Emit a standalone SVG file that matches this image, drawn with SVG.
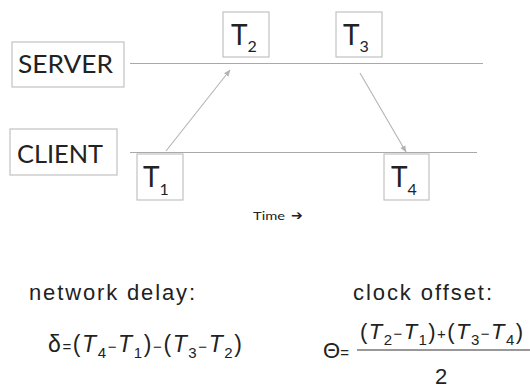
<svg xmlns="http://www.w3.org/2000/svg" width="530" height="389" viewBox="0 0 530 389">
<defs>
<style>
.box{fill:none;stroke:#c2c2c2;stroke-width:1.2}
.lbl{font-family:Lato,"Liberation Sans",sans-serif;fill:#222}
.tl{font-family:Lato,"Liberation Sans",sans-serif;font-size:28px;fill:#222}
.ts{font-size:16px}
.axis{stroke:#a9a9a9;stroke-width:1.2}
.msg{stroke:#b3b3b3;stroke-width:1.1;fill:none}
.m{font-family:"Liberation Sans",Arial,sans-serif;fill:#222}
.it{font-style:italic}
.sub{font-size:15px}
.op{font-size:15px}
</style>
<marker id="ah" viewBox="0 0 10 10" refX="9" refY="5" markerWidth="7" markerHeight="7" orient="auto" markerUnits="userSpaceOnUse">
<path d="M0,1 L10,5 L0,9 Z" fill="#b3b3b3"/>
</marker>
</defs>
<rect width="530" height="389" fill="#ffffff"/>

<g id="server">
<rect class="box" x="12" y="42" width="112" height="45"/>
<text class="lbl" x="18" y="73" font-size="25" textLength="95" lengthAdjust="spacingAndGlyphs">SERVER</text>
</g>
<g id="client">
<rect class="box" x="10" y="129" width="107" height="46"/>
<text class="lbl" x="17" y="163" font-size="25" textLength="86" lengthAdjust="spacingAndGlyphs">CLIENT</text>
</g>

<g id="connectors">
<line class="axis" x1="130" y1="63.5" x2="483" y2="63.5"/>
<line class="axis" x1="130" y1="152.5" x2="477" y2="152.5"/>
<line class="msg" x1="166" y1="151" x2="230" y2="70" marker-end="url(#ah)"/>
<line class="msg" x1="360" y1="73" x2="406" y2="152" marker-end="url(#ah)"/>
</g>

<g id="t1">
<rect class="box" x="137" y="154" width="46" height="46"/>
<text class="tl" x="143" y="187">T<tspan class="ts" dy="8">1</tspan></text>
</g>
<g id="t2">
<rect class="box" x="223" y="12" width="46" height="45"/>
<text class="tl" x="231" y="45">T<tspan class="ts" dy="7">2</tspan></text>
</g>
<g id="t3">
<rect class="box" x="336" y="12" width="46" height="45"/>
<text class="tl" x="343" y="45">T<tspan class="ts" dy="7">3</tspan></text>
</g>
<g id="t4">
<rect class="box" x="384" y="154" width="45" height="46"/>
<text class="tl" x="391" y="187">T<tspan class="ts" dy="8">4</tspan></text>
</g>

<g id="time">
<text class="lbl" x="253" y="220" font-size="12" textLength="32" lengthAdjust="spacingAndGlyphs">Time</text>
<text x="291" y="220" font-size="14" font-weight="bold" font-family="DejaVu Sans,sans-serif" fill="#222">➔</text>
</g>

<g id="delay">
<text class="m" x="29" y="300" font-size="22" textLength="166" lengthAdjust="spacing">network delay:</text>
<text class="m" x="48" y="352" font-size="23" textLength="194" lengthAdjust="spacing">δ<tspan class="op">=</tspan>(<tspan class="it">T</tspan><tspan class="sub" dy="6">4</tspan><tspan class="op" dy="-6">−</tspan><tspan class="it">T</tspan><tspan class="sub" dy="6">1</tspan><tspan dy="-6">)</tspan><tspan class="op">−</tspan>(<tspan class="it">T</tspan><tspan class="sub" dy="6">3</tspan><tspan class="op" dy="-6">−</tspan><tspan class="it">T</tspan><tspan class="sub" dy="6">2</tspan><tspan dy="-6">)</tspan></text>
</g>

<g id="offset">
<text class="m" x="353" y="300" font-size="22" textLength="139" lengthAdjust="spacing">clock offset:</text>
<text class="m" x="323" y="358" font-size="22">Θ<tspan class="op">=</tspan></text>
<line x1="357" y1="350" x2="530" y2="350" stroke="#333" stroke-width="1.2"/>
<text class="m" x="360" y="339" font-size="22" textLength="163" lengthAdjust="spacing">(<tspan class="it">T</tspan><tspan class="sub" dy="6">2</tspan><tspan class="op" dy="-6">−</tspan><tspan class="it">T</tspan><tspan class="sub" dy="6">1</tspan><tspan dy="-6">)</tspan><tspan class="op">+</tspan>(<tspan class="it">T</tspan><tspan class="sub" dy="6">3</tspan><tspan class="op" dy="-6">−</tspan><tspan class="it">T</tspan><tspan class="sub" dy="6">4</tspan><tspan dy="-6">)</tspan></text>
<text class="m" x="441" y="384" font-size="22" text-anchor="middle">2</text>
</g>
</svg>
